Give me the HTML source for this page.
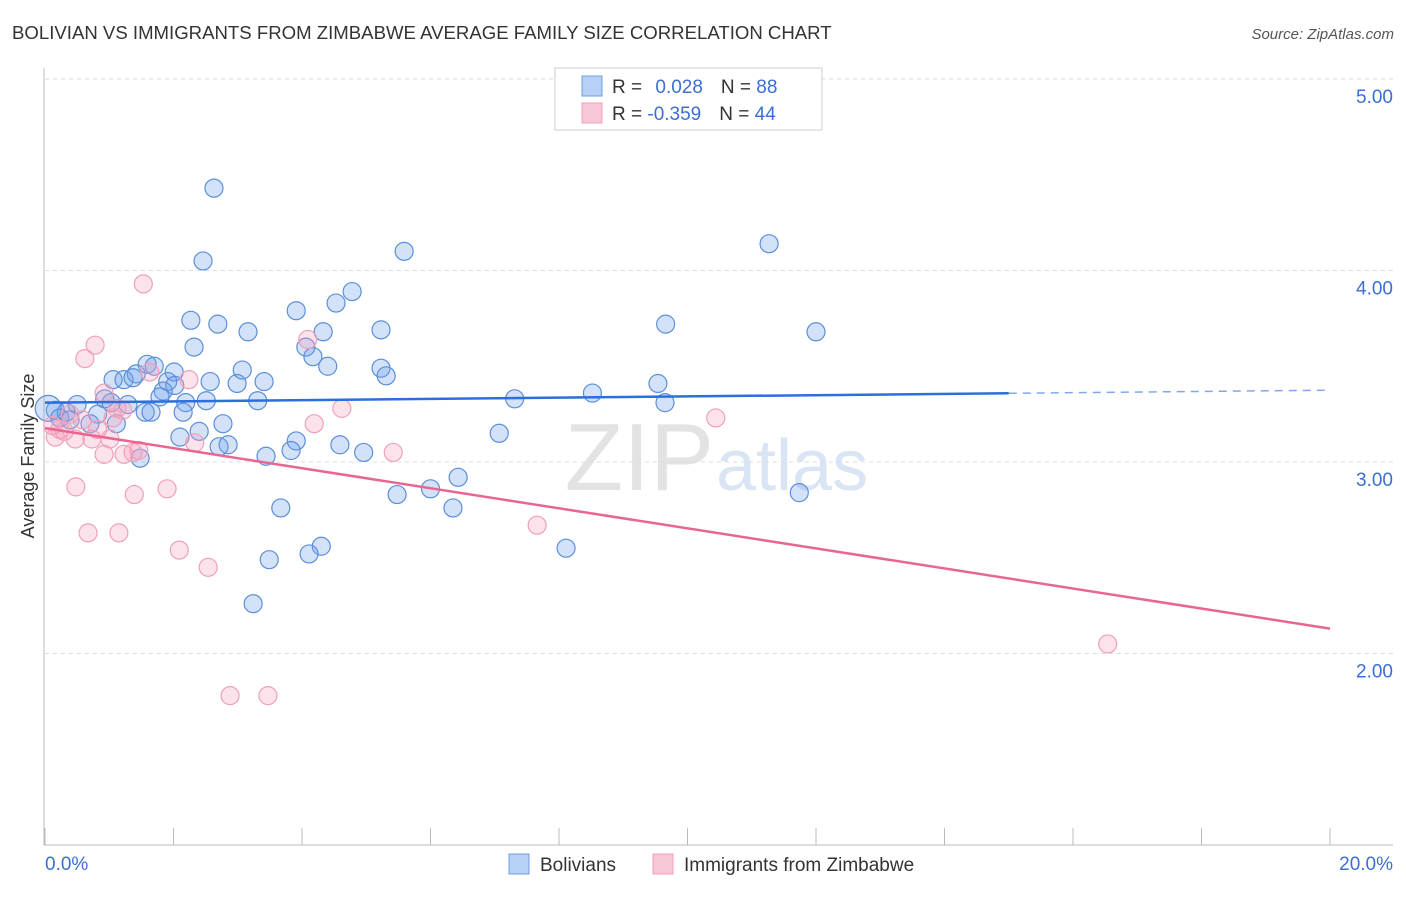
<!DOCTYPE html>
<html><head><meta charset="utf-8"><style>
body{margin:0;background:#fff;font-family:"Liberation Sans",sans-serif;}
svg text{font-family:"Liberation Sans",sans-serif;}
</style></head><body>
<svg id="chart" width="1406" height="892" xmlns="http://www.w3.org/2000/svg">
<text x="12" y="39" font-size="18.6" fill="#333">BOLIVIAN VS IMMIGRANTS FROM ZIMBABWE AVERAGE FAMILY SIZE CORRELATION CHART</text>
<text x="1394" y="39" font-size="15" fill="#555" text-anchor="end" font-style="italic">Source: ZipAtlas.com</text>
<g id="grid"></g>
<text x="714" y="490" font-size="96" fill="#ddd" text-anchor="end" font-family="Liberation Serif" opacity="0.8">ZIP</text>
<text x="716" y="490" font-size="72" fill="#c9daf0" opacity="0.7">atlas</text>
<line x1="44" y1="68" x2="44" y2="845" stroke="#bbb"/>
<line x1="44" y1="845" x2="1393" y2="845" stroke="#bbb"/>
<text transform="translate(34,456) rotate(-90)" font-size="18" fill="#333" text-anchor="middle">Average Family Size</text>
<text x="45" y="870" font-size="19" fill="#3b6fd4">0.0%</text>
<text x="1393" y="870" font-size="19" fill="#3b6fd4" text-anchor="end">20.0%</text>
<g id="marks"></g>
<g>
<rect x="555" y="68" width="267" height="62" fill="#fff" stroke="#ccc"/>
<rect x="582" y="76" width="20" height="20" fill="#b7d0f5" stroke="#6f9ee0"/>
<rect x="582" y="103" width="20" height="20" fill="#f8c6d4" stroke="#f0a0b8"/>
<text x="612" y="93" font-size="19" fill="#333">R = <tspan fill="#3b6fd4" dx="8">0.028</tspan><tspan dx="18">N = </tspan><tspan fill="#3b6fd4">88</tspan></text>
<text x="612" y="120" font-size="19" fill="#333">R = <tspan fill="#3b6fd4">-0.359</tspan><tspan dx="18">N = </tspan><tspan fill="#3b6fd4">44</tspan></text>
</g>
<g>
<rect x="509" y="854" width="20" height="20" fill="#b7d0f5" stroke="#6f9ee0"/>
<text x="540" y="871" font-size="19" fill="#333">Bolivians</text>
<rect x="653" y="854" width="20" height="20" fill="#f8c6d4" stroke="#f0a0b8"/>
<text x="684" y="871" font-size="19" fill="#333">Immigrants from Zimbabwe</text>
</g>
</svg>
<script>
const yTicks=[5,4,3,2];
const yTickLabels=["5.00","4.00","3.00","2.00"];
const blueX=[2.63,2.46,5.59,11.27,4.78,4.53,3.91,2.27,2.69,3.16,4.33,5.23,9.66,12.0,2.32,4.06,4.17,4.40,1.59,1.70,2.01,3.07,5.23,5.31,1.42,1.06,1.23,1.37,1.91,2.57,2.99,3.41,9.54,1.84,2.02,8.52,7.31,9.65,3.31,2.51,2.19,1.79,1.29,1.03,0.50,0.16,0.33,0.82,1.56,1.65,2.15,2.77,1.11,0.70,2.40,2.10,3.91,7.07,2.71,2.85,4.59,3.83,3.44,4.96,1.48,6.43,6.00,5.48,11.74,3.67,6.35,4.30,4.11,8.11,3.49,3.24,0.05,0.23,0.39,0.93];
const blueY=[4.43,4.05,4.10,4.14,3.89,3.83,3.79,3.74,3.72,3.68,3.68,3.69,3.72,3.68,3.60,3.60,3.55,3.50,3.51,3.50,3.47,3.48,3.49,3.45,3.46,3.43,3.43,3.44,3.42,3.42,3.41,3.42,3.41,3.37,3.40,3.36,3.33,3.31,3.32,3.32,3.31,3.34,3.30,3.31,3.30,3.27,3.26,3.25,3.26,3.26,3.26,3.20,3.20,3.20,3.16,3.13,3.11,3.15,3.08,3.09,3.09,3.06,3.03,3.05,3.02,2.92,2.86,2.83,2.84,2.76,2.76,2.56,2.52,2.55,2.49,2.26,3.28,3.23,3.22,3.33];
const pinkX=[1.53,0.78,0.62,1.63,2.24,4.09,0.92,4.62,1.12,4.19,10.44,0.12,0.23,0.16,0.30,0.47,0.73,1.01,0.82,2.33,0.92,1.23,1.37,1.46,5.42,0.48,1.90,1.39,7.66,0.67,1.15,2.09,2.54,2.88,3.47,16.54,1.06,0.39,0.58,1.21];
const pinkY=[3.93,3.61,3.54,3.47,3.43,3.64,3.36,3.28,3.28,3.20,3.23,3.19,3.17,3.13,3.16,3.12,3.12,3.12,3.17,3.10,3.04,3.04,3.05,3.06,3.05,2.87,2.86,2.83,2.67,2.63,2.63,2.54,2.45,1.78,1.78,2.05,3.23,3.25,3.22,3.27];
const blueTrend=[3.31,3.375];
const pinkTrend=[3.177,2.13];
const NS="http://www.w3.org/2000/svg";
function xs(v){return 45+v/20*1285;}
function ys(v){return 79+(5-v)*191.5;}
function mk(t,a,p){const e=document.createElementNS(NS,t);for(const k in a)e.setAttribute(k,a[k]);p.appendChild(e);return e;}
const grid=document.getElementById('grid');
yTicks.forEach((t,i)=>{
  const l=mk('line',{x1:45,x2:1393,y1:ys(t),y2:ys(t),stroke:'#ddd','stroke-dasharray':'4,4'},grid);
  
  
  const tx=mk('text',{x:1393,y:ys(t)+24,'font-size':19,fill:'#3b6fd4','text-anchor':'end'},grid);
  tx.textContent=yTickLabels[i];
  
  
});
for(let i=0;i<=10;i++){
  const l=mk('line',{x1:xs(i*2),x2:xs(i*2),y1:828,y2:845,stroke:'#bbb'},grid);
  
  
}
const marks=document.getElementById('marks');
blueX.forEach((x,i)=>{
  const r=i==76?13:9;
  const c=mk('circle',{cx:xs(x),cy:ys(blueY[i]),r:r,fill:'rgba(110,160,235,0.3)',stroke:'#5b8fd8','stroke-width':1.2},marks);
  
  
});
pinkX.forEach((x,i)=>{
  const c=mk('circle',{cx:xs(x),cy:ys(pinkY[i]),r:9,fill:'rgba(245,160,190,0.3)',stroke:'#f0a0b8','stroke-width':1.2},marks);
  
  
});
function by(x){return blueTrend[0]+(blueTrend[1]-blueTrend[0])*x/20;}
let t=mk('line',{x1:xs(0),y1:ys(by(0)),x2:xs(15),y2:ys(by(15)),stroke:'#2a6fdb','stroke-width':2.5},marks);


t=mk('line',{x1:xs(15),y1:ys(by(15)),x2:xs(20),y2:ys(by(20)),stroke:'#2a6fdb','stroke-width':1.5,'stroke-dasharray':'8,6',opacity:0.6},marks);


t=mk('line',{x1:xs(0),y1:ys(pinkTrend[0]),x2:xs(20),y2:ys(pinkTrend[1]),stroke:'#e8668f','stroke-width':2.5},marks);


</script>
</body></html>
